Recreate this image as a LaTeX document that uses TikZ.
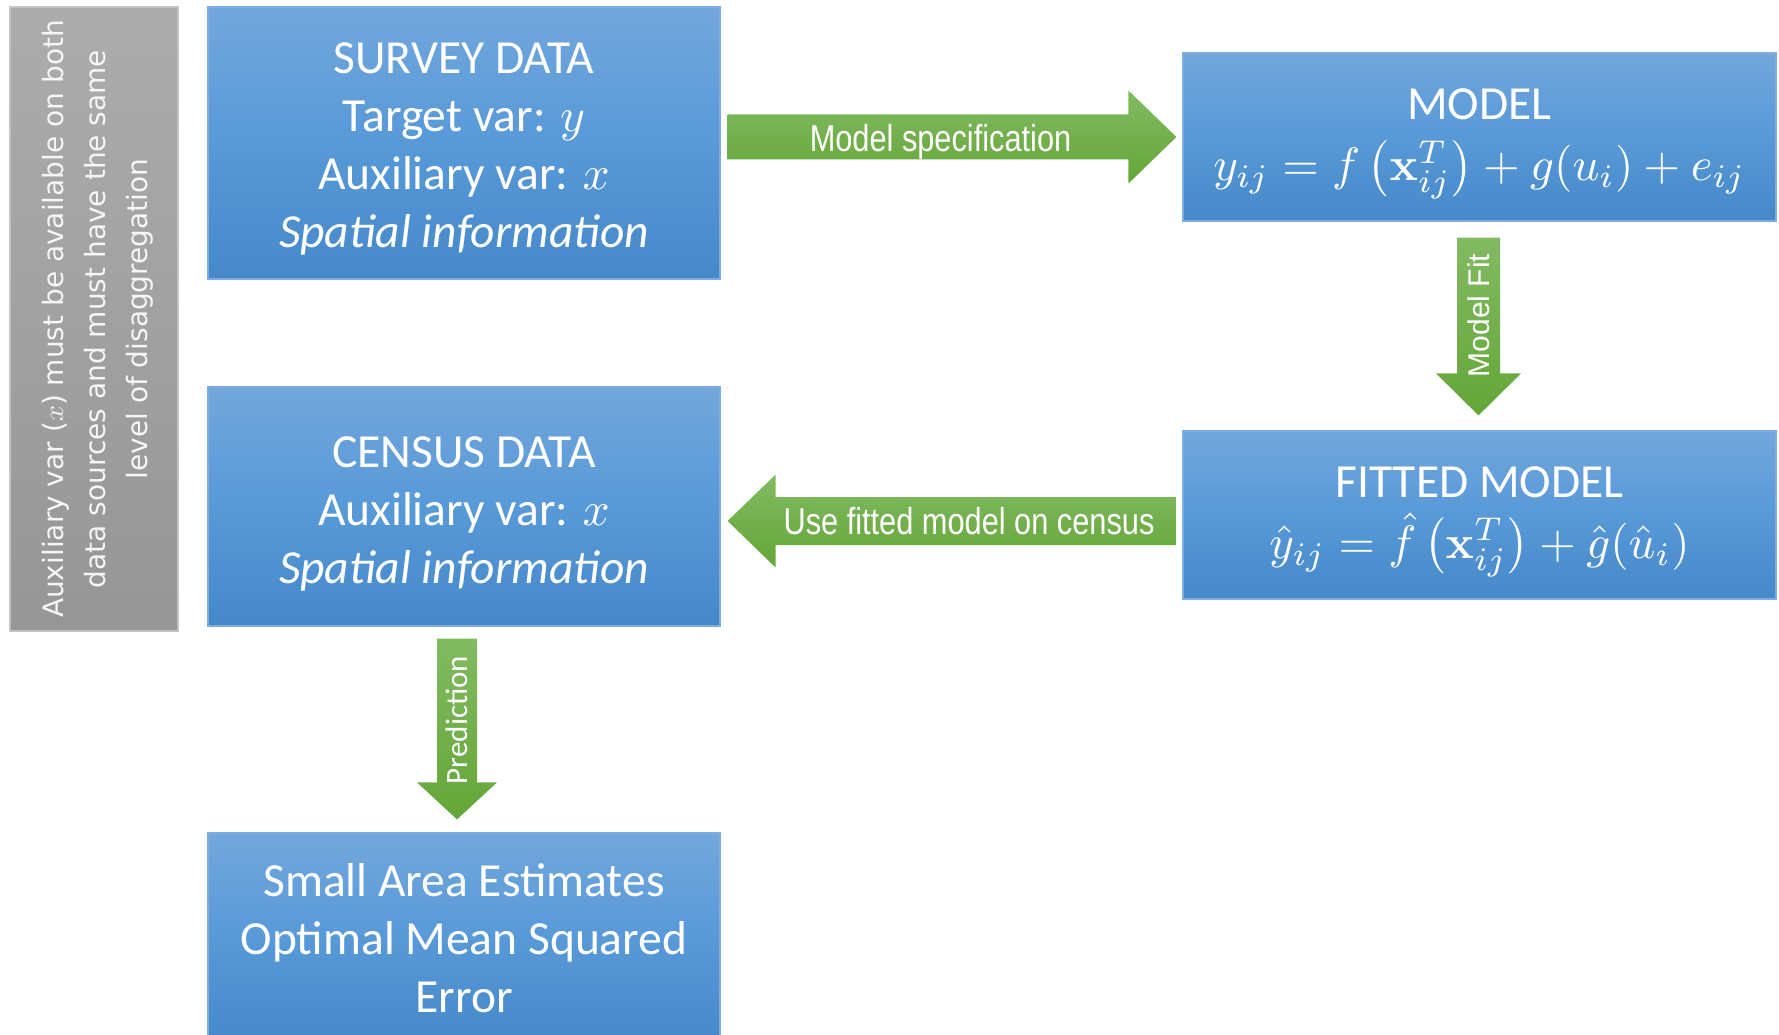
\documentclass[tikz,border=0pt]{standalone}
\usepackage[no-math]{fontspec}
\usepackage{graphicx}
\setmainfont{Carlito}
\newfontfamily\notefont{DejaVu Sans}
\newfontfamily\arrowfont{Liberation Sans}[FakeStretch=0.82]
\newfontfamily\fitfont{Liberation Sans}
\usetikzlibrary{calc}

% math set at 10pt and scaled up, so every glyph keeps its design size
\newcommand\bigmath[2]{\scalebox{#1}{\fontsize{10}{12}\selectfont$#2$}}

\definecolor{bluetop}{RGB}{114,167,220}
\definecolor{bluemid}{RGB}{88,153,216}
\definecolor{bluebot}{RGB}{70,137,200}
\definecolor{blueedge}{RGB}{125,172,222}
\definecolor{greentop}{RGB}{130,186,98}
\definecolor{greenbot}{RGB}{100,166,56}
\definecolor{graytop}{RGB}{172,172,172}
\definecolor{graybot}{RGB}{150,150,150}
\definecolor{grayedge}{RGB}{195,195,195}
\definecolor{notetext}{RGB}{246,246,246}

\tikzset{
  databox/.style={draw=blueedge, line width=1.2pt,
    top color=bluetop, bottom color=bluebot, middle color=bluemid,
    text=white, align=center, inner sep=0pt,
    font=\fontsize{47.5}{58}\selectfont},
  notebox/.style={draw=grayedge, line width=1.2pt,
    top color=graytop, bottom color=graybot,
    inner sep=0pt},
  greenarrow/.style={top color=greentop, bottom color=greenbot, draw=none},
  hlabel/.style={text=white, inner sep=0pt, font=\arrowfont\fontsize{37.5}{40}\selectfont},
  vlabel/.style={text=white, inner sep=0pt, rotate=90},
}

\begin{document}
\begin{tikzpicture}[x=1pt, y=-1pt]
\useasboundingbox (0,0) rectangle (1779,1035);

% side note
\node[notebox, minimum width=168pt, minimum height=624pt] (note) at (94,319) {};
\node[text=notetext, rotate=90, align=center, inner sep=0pt,
      font=\notefont\fontsize{28}{42}\selectfont] (notetxt) at ($(note.center)+(3.5,0)$)
  {Auxiliary var (\bigmath{2.8}{x}) must be available on both\\
   data sources and must have the same\\
   level of disaggregation};

% data boxes
\node[databox, minimum width=512pt, minimum height=272pt] (survey) at (464,143)
  {\rule{0pt}{43pt}SURVEY DATA\\Target var: \bigmath{4.75}{y}\\Auxiliary var: \bigmath{4.75}{x}\\\textit{Spatial information}};
\node[databox, minimum width=512pt, minimum height=239pt] (census) at (464,506.5)
  {\rule{0pt}{45pt}CENSUS DATA\\Auxiliary var: \bigmath{4.75}{x}\\\textit{Spatial information}};
\node[databox, minimum width=512pt, minimum height=210pt] (sae) at (464,938)
  {Small Area Estimates\\Optimal Mean Squared\\Error};

% model boxes
\node[databox, minimum width=593pt, minimum height=168pt] (model) at (1479.5,137)
  {\rule{0pt}{36.4pt}MODEL\\[3pt]\raisebox{0pt}[20pt][10pt]{\bigmath{4.7}{y_{ij} = f\left(\mathbf{x}_{ij}^{T}\right) + g(u_i) + e_{ij}}}};
\node[databox, minimum width=593pt, minimum height=168pt] (fitted) at (1479.5,515)
  {\rule{0pt}{35.5pt}FITTED MODEL\\[2.5pt]\raisebox{0pt}[20pt][10pt]{\bigmath{4.7}{\hat{y}_{ij} = \hat{f}\left(\mathbf{x}_{ij}^{T}\right) + \hat{g}(\hat{u}_i)}}};

% survey -> model
\coordinate (specS) at ($(survey.east |- model.west)+(7,0)$);
\coordinate (specE) at ($(model.west)+(-6,0)$);
\shade[greenarrow] ($(specS)+(0,-22.5)$) -- ($(specE)+(-48,-22.5)$)
  -- ($(specE)+(-48,-46.5)$) -- (specE) -- ($(specE)+(-48,46.5)$)
  -- ($(specE)+(-48,22.5)$) -- ($(specS)+(0,22.5)$) -- cycle;
\node[hlabel] (specL) at ($(specS)!0.5!(specE)+(-11.5,4.5)$) {Model specification};

% model -> fitted
\coordinate (fitS) at ($(model.south)+(-1,16)$);
\coordinate (fitE) at ($(fitted.north)+(-1,-15)$);
\shade[greenarrow] ($(fitS)+(-21.5,0)$) -- ($(fitE)+(-21.5,-42)$)
  -- ($(fitE)+(-42.5,-42)$) -- (fitE) -- ($(fitE)+(42.5,-42)$)
  -- ($(fitE)+(21.5,-42)$) -- ($(fitS)+(21.5,0)$) -- cycle;
\node[vlabel, font=\fitfont\fontsize{30}{32}\selectfont] (fitL)
  at ($(fitS)!0.5!(fitE)+(0,-11)$) {Model Fit};

% fitted -> census
\coordinate (useS) at ($(fitted.west)+(-6,6)$);
\coordinate (useE) at ($(census.east |- useS)+(7,0)$);
\shade[greenarrow] ($(useS)+(0,-24)$) -- ($(useE)+(48,-24)$)
  -- ($(useE)+(48,-46.5)$) -- (useE) -- ($(useE)+(48,46.5)$)
  -- ($(useE)+(48,24)$) -- ($(useS)+(0,24)$) -- cycle;
\node[hlabel] (useL) at ($(useS)!0.5!(useE)+(17,0)$) {Use fitted model on census};

% census -> estimates
\coordinate (preS) at ($(census.south)+(-7,12)$);
\coordinate (preE) at ($(sae.north)+(-7,-13)$);
\shade[greenarrow] ($(preS)+(-20,0)$) -- ($(preE)+(-20,-37)$)
  -- ($(preE)+(-40,-37)$) -- (preE) -- ($(preE)+(40,-37)$)
  -- ($(preE)+(20,-37)$) -- ($(preS)+(20,0)$) -- cycle;
\node[vlabel, font=\fontsize{31}{33}\selectfont] (preL)
  at ($(preS)!0.5!(preE)+(0,-9)$) {Prediction};
\end{tikzpicture}
\end{document}
